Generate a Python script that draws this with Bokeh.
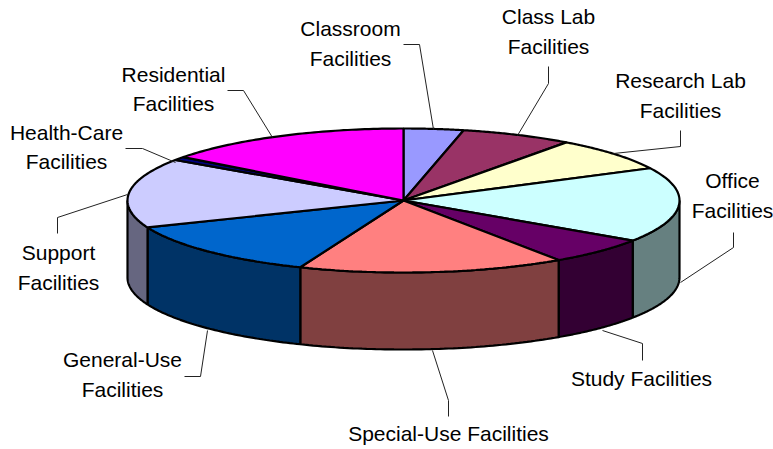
import numpy as np
from bokeh.plotting import figure
from bokeh.models import Range1d
from bokeh.core.properties import value
from bokeh.embed import file_html
from bokeh.resources import INLINE

categories = ["Classroom", "Class Lab", "Research Lab", "Office", "Study",
              "Special-Use", "General-Use", "Support", "Health-Care", "Residential"]
shares = [3.5, 6.55, 7.55, 16.8, 6.1, 15.6, 12.8, 15.6, 0.8, 14.7]
top_colors = ["#9999FF", "#993366", "#FFFFCC", "#CCFFFF", "#660066",
              "#FF8080", "#0066CC", "#CCCCFF", "#000080", "#FF00FF"]
side_colors = ["#666699", "#4D1933", "#808066", "#668080", "#330033",
               "#804040", "#003366", "#666680", "#000040", "#800080"]
label_lines = [["Classroom", "Facilities"], ["Class Lab", "Facilities"],
               ["Research Lab", "Facilities"], ["Office", "Facilities"],
               ["Study Facilities"], ["Special-Use Facilities"],
               ["General-Use", "Facilities"], ["Support", "Facilities"],
               ["Health-Care", "Facilities"], ["Residential", "Facilities"]]
label_x = [350, 548, 680, 732, 641, 448, 122, 58, 66, 173]
label_y = [[28, 58], [16, 46], [80, 110], [180, 210], [378], [433],
           [359, 389], [252, 282], [132, 161], [74, 103]]
leaders = [[(403, 44), (419, 44), (433, 129)],
           [(517, 135), (548, 83), (548, 66)],
           [(613, 153), (680, 146), (680, 130)],
           [(680, 282), (733, 247), (733, 232)],
           [(602, 330), (642, 343), (642, 360)],
           [(432, 350), (448, 400), (448, 416)],
           [(207, 330), (200, 376), (184, 376)],
           [(127, 194), (57, 217), (57, 233)],
           [(175, 162), (142, 148), (125, 148)],
           [(272, 137), (243, 90), (227, 90)]]

CX, CY, RX, RY, DEPTH = 403, 200, 276, 72, 77
FONT_PX = 21

W, H = 773, 449
p = figure(width=W, height=H, output_backend="svg", toolbar_location=None,
           x_range=Range1d(0, W), y_range=Range1d(H, 0),
           min_border=0, outline_line_color=None, background_fill_color="white")
p.axis.visible = False
p.grid.visible = False

def ell(t):
    t = np.asarray(t, dtype=float)
    return CX + RX * np.sin(t), CY - RY * np.cos(t)

edges = np.concatenate([[0], np.cumsum(shares)]) / np.sum(shares) * 2 * np.pi

for i in range(len(shares)):
    a, b = max(edges[i], np.pi / 2), min(edges[i + 1], 3 * np.pi / 2)
    if b <= a:
        continue
    t = np.linspace(a, b, 60)
    x, y = ell(t)
    xs = np.concatenate([x, x[::-1]])
    ys = np.concatenate([y, (y + DEPTH)[::-1]])
    p.patch(xs, ys, fill_color=side_colors[i], line_color="black", line_width=2.2)

for i in range(len(shares)):
    t = np.linspace(edges[i], edges[i + 1], 60)
    x, y = ell(t)
    xs = np.concatenate([[CX], x])
    ys = np.concatenate([[CY], y])
    p.patch(xs, ys, fill_color=top_colors[i], line_color="black", line_width=2.2)

for pts in leaders:
    p.line([q[0] for q in pts], [q[1] for q in pts], line_color="#222222", line_width=1)

for lines, lx, ys in zip(label_lines, label_x, label_y):
    for s, ly in zip(lines, ys):
        p.text([lx], [ly], text=[s], text_align="center", text_baseline="middle",
               text_font=value("Liberation Sans"), text_font_size=f"{FONT_PX}px",
               text_color="black")

open("out.html", "w").write(file_html(p, INLINE))
